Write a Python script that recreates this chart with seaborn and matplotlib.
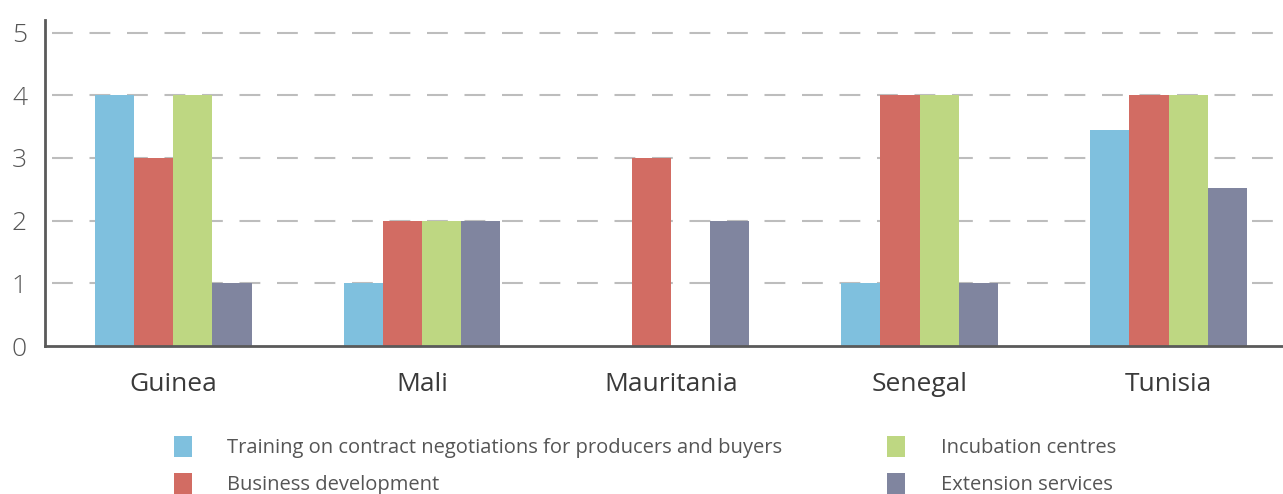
import pandas as pd
import matplotlib
matplotlib.use("Agg")
import matplotlib.pyplot as plt
import seaborn as sns

# values
countries = ["Guinea", "Mali", "Mauritania", "Senegal", "Tunisia"]
services = ["Training on contract negotiations for producers and buyers",
            "Business development",
            "Incubation centres",
            "Extension services"]
training = [4, 1, 0, 1, 3.45]
business = [3, 2, 3, 4, 4]
incubation = [4, 2, 0, 4, 4]
extension = [1, 2, 2, 1, 2.52]
colors = ["#7FC0DE", "#D26C63", "#BED782", "#80859F"]

rows = []
for name, vals in zip(services, [training, business, incubation, extension]):
    for c, v in zip(countries, vals):
        rows.append({"country": c, "service": name, "score": v})
df = pd.DataFrame(rows)

sns.set_style("white")
plt.rcParams["font.family"] = ["Open Sans", "DejaVu Sans"]
text_col = "#555555"

fig = plt.figure(figsize=(12.83, 4.94), dpi=100)
ax = fig.add_axes([45 / 1283, 1 - 346 / 494, 1 - 45 / 1283, (346 - 20) / 494])

sns.barplot(data=df, x="country", y="score", hue="service", order=countries,
            hue_order=services, palette=colors, width=0.63, saturation=1,
            errorbar=None, ax=ax, legend=True, linewidth=0)

ax.set_ylim(0, 5.2)
ax.set_xlim(-0.515, 4.46)
ax.set_yticks([0, 1, 2, 3, 4, 5])
for y in [1, 2, 3, 4, 5]:
    ax.axhline(y, color="#BDBDBD", lw=1.5, dashes=(10, 8), zorder=0,
               xmin=0.006)
ax.set_axisbelow(True)
ax.set_xlabel("")
ax.set_ylabel("")
sns.despine(ax=ax)
for s in ["left", "bottom"]:
    ax.spines[s].set_color("#5A5A5A")
    ax.spines[s].set_linewidth(2)
ax.tick_params(axis="y", length=0, pad=13, labelsize=19, labelcolor=text_col)
ax.tick_params(axis="x", length=0, pad=19, labelsize=19, labelcolor="#3A3A3A")
for t in ax.get_yticklabels():
    t.set_fontweight("light")

handles, labels = ax.get_legend_handles_labels()
ax.get_legend().remove()
leg = fig.legend(handles, labels, loc="upper left", ncol=2,
                 bbox_to_anchor=(164 / 1283, 1 - 426 / 494), frameon=False,
                 fontsize=14.5, handlelength=0.9, handleheight=1.2,
                 handletextpad=1.75, columnspacing=5.2, labelspacing=0.75,
                 borderpad=0, labelcolor=text_col)

fig.savefig("out.png", dpi=100)
